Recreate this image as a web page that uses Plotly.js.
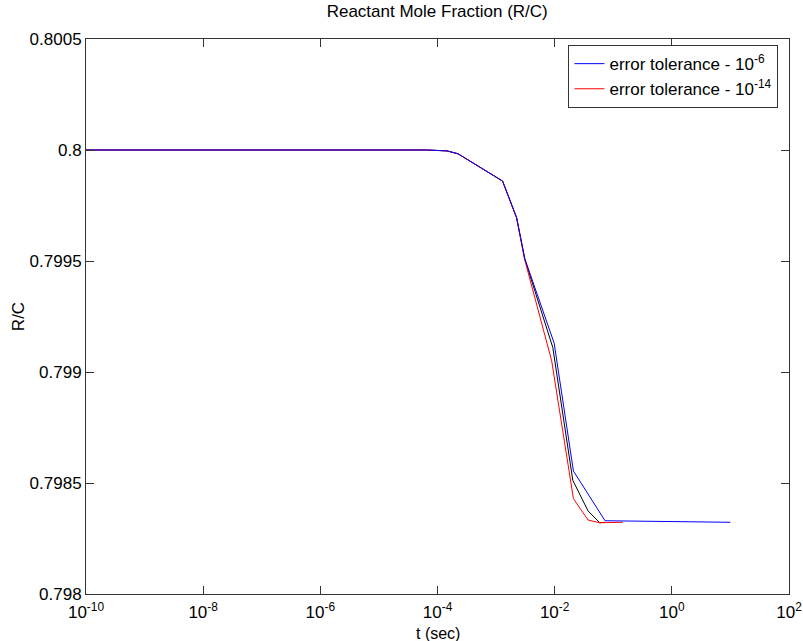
<!DOCTYPE html>
<html>
<head>
<meta charset="utf-8">
<script src="https://cdn.plot.ly/plotly-3.0.1.min.js"></script>
<style>html,body{margin:0;padding:0;background:#fff;}#chart{width:803px;height:641px;}</style>
</head>
<body>
<div id="chart"></div>
<script>
// Blue: error tolerance 1e-6
const tBlue = [1e-10, 6.5e-5, 1.45e-4, 2.24e-4, 1.29e-3, 2.24e-3, 3.1e-3, 9.8e-3, 0.0209, 0.0724, 10];
const yBlue = [0.8, 0.8, 0.799996, 0.799983, 0.79986, 0.799695, 0.79951, 0.79913, 0.798554, 0.798330, 0.798323];
// Red: error tolerance 1e-14
const tRed = [1e-10, 6.5e-5, 1.45e-4, 2.24e-4, 1.29e-3, 2.24e-3, 3.05e-3, 8.9e-3, 0.0209, 0.0372, 0.0589, 0.145];
const yRed = [0.8, 0.8, 0.799996, 0.799983, 0.79986, 0.799695, 0.79951, 0.79905, 0.798430, 0.798333, 0.798321, 0.798323];
// Black: reference curve (not in legend)
const tBlack = [1e-10, 6.5e-5, 1.45e-4, 2.24e-4, 1.29e-3, 2.24e-3, 3.08e-3, 9.3e-3, 0.0204, 0.0372, 0.0589, 0.0724];
const yBlack = [0.8, 0.8, 0.799996, 0.799983, 0.79986, 0.799695, 0.79951, 0.79911, 0.798512, 0.798374, 0.798321, 0.798323];

const xTickVals = [1e-10, 1e-8, 1e-6, 1e-4, 1e-2, 1, 100];
const xTickText = ['10<sup>-10</sup>', '10<sup>-8</sup>', '10<sup>-6</sup>', '10<sup>-4</sup>', '10<sup>-2</sup>', '10<sup>0</sup>', '10<sup>2</sup>'];
const yTickVals = [0.798, 0.7985, 0.799, 0.7995, 0.8, 0.8005];
const yTickText = ['0.798', '0.7985', '0.799', '0.7995', '0.8', '0.8005'];

const seriesNames = ['error tolerance - 10<sup>-6</sup>', 'error tolerance - 10<sup>-14</sup>'];
const xTitle = 't (sec)';

const traces = [
  {x: tBlack, y: yBlack, type: 'scatter', mode: 'lines', line: {color: '#000000', width: 1}, showlegend: false, hoverinfo: 'skip'},
  {x: tRed, y: yRed, type: 'scatter', mode: 'lines', name: seriesNames[1], line: {color: '#ff0000', width: 1}},
  {x: tBlue, y: yBlue, type: 'scatter', mode: 'lines', name: seriesNames[0], line: {color: '#0000ff', width: 1}}
];

const font = {family: 'Liberation Sans, Arial, sans-serif', size: 17, color: '#000'};
const smallFont = {family: 'Liberation Sans, Arial, sans-serif', size: 16, color: '#000'};

const layout = {
  width: 803, height: 641,
  margin: {l: 86, r: 14, t: 39, b: 47},
  paper_bgcolor: '#fff', plot_bgcolor: '#fff',
  font: font,
  title: {text: 'Reactant Mole Fraction (R/C)', font: font, x: 0.5445, xanchor: 'center', y: 0.983, yanchor: 'middle'},
  xaxis: {
    type: 'log', range: [-10, 2], autorange: false,
    tickvals: xTickVals, ticktext: xTickText,
    ticks: 'inside', ticklen: 8, tickcolor: '#333', tickwidth: 1,
    showline: true, linecolor: '#333', linewidth: 1, mirror: 'ticks',
    showgrid: false, zeroline: false,
    tickfont: font, ticklabelstandoff: 3
  },
  yaxis: {
    range: [0.798, 0.8005], autorange: false,
    tickvals: yTickVals, ticktext: yTickText,
    ticks: 'inside', ticklen: 8, tickcolor: '#333', tickwidth: 1,
    showline: true, linecolor: '#333', linewidth: 1, mirror: 'ticks',
    showgrid: false, zeroline: false,
    tickfont: font,
    title: {text: 'R/C', font: font, standoff: 0}
  },
  annotations: [
    {text: xTitle, xref: 'paper', yref: 'paper', x: 0.5, y: -0.0705, xanchor: 'center', yanchor: 'middle', showarrow: false, font: smallFont}
  ],
  legend: {
    x: 0.985, xanchor: 'right', y: 0.989, yanchor: 'top',
    bgcolor: '#fff', bordercolor: '#333', borderwidth: 1,
    font: font, traceorder: 'reversed', tracegroupgap: 0,
    itemwidth: 30
  },
  showlegend: true
};

Plotly.newPlot('chart', traces, layout, {staticPlot: true, displayModeBar: false});
</script>
</body>
</html>
